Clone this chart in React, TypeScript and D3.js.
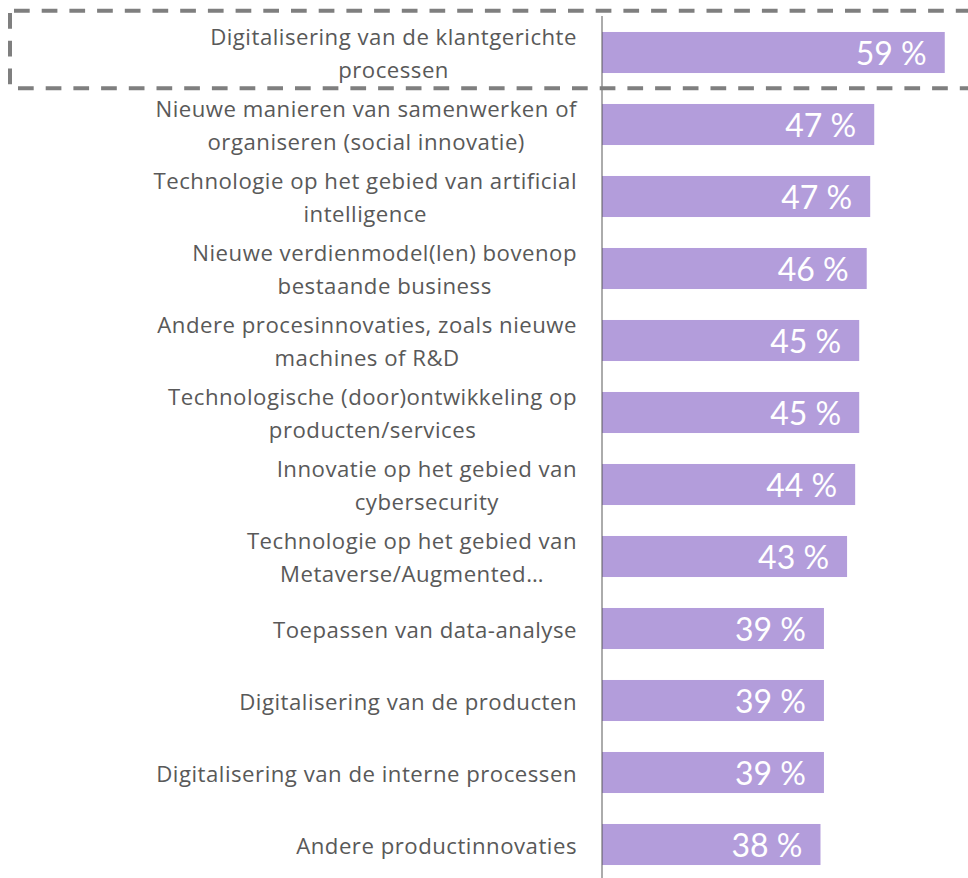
import React, { useEffect, useRef } from "react";
import * as d3 from "d3";

const categories: string[][] = [
  ["Digitalisering van de klantgerichte", "processen"],
  ["Nieuwe manieren van samenwerken of", "organiseren (social innovatie)"],
  ["Technologie op het gebied van artificial", "intelligence"],
  ["Nieuwe verdienmodel(len) bovenop", "bestaande business"],
  ["Andere procesinnovaties, zoals nieuwe", "machines of R&D"],
  ["Technologische (door)ontwikkeling op", "producten/services"],
  ["Innovatie op het gebied van", "cybersecurity"],
  ["Technologie op het gebied van", "Metaverse/Augmented…"],
  ["Toepassen van data-analyse"],
  ["Digitalisering van de producten"],
  ["Digitalisering van de interne processen"],
  ["Andere productinnovaties"],
];
// bar lengths
const values: number[] = [59.3, 47.1, 46.4, 45.8, 44.5, 44.5, 43.8, 42.4, 38.4, 38.4, 38.4, 37.8];
const valueLabels: string[] = ["59 %", "47 %", "47 %", "46 %", "45 %", "45 %", "44 %", "43 %", "39 %", "39 %", "39 %", "38 %"];

const W = 968;
const H = 878;
const LABEL_FONT = "'Open Sans', Lato, sans-serif";
const VALUE_FONT = "Lato, 'Open Sans', sans-serif";

export default function App() {
  const ref = useRef<SVGSVGElement | null>(null);
  useEffect(() => {
    const svg = d3.select(ref.current);
    svg.selectAll("*").remove();
    const axisX = 602;
    const x = d3.scaleLinear().domain([0, 100]).range([axisX, axisX + 578]);
    const y = d3
      .scaleBand<number>()
      .domain(d3.range(values.length))
      .range([16.5, 16.5 + 72 * values.length])
      .paddingInner(0.43)
      .paddingOuter(0.215);

    const g = svg.append("g");
    g.selectAll("rect.bar")
      .data(values)
      .join("rect")
      .attr("class", "bar")
      .attr("x", axisX)
      .attr("y", (_, i) => y(i)!)
      .attr("width", (d) => x(d) - axisX)
      .attr("height", y.bandwidth())
      .attr("fill", "#b39ddb");

    g.selectAll("text.val")
      .data(values)
      .join("text")
      .attr("class", "val")
      .attr("x", (d) => x(d) - 18)
      .attr("y", (_, i) => y(i)! + y.bandwidth() / 2 + 12)
      .attr("text-anchor", "end")
      .attr("fill", "#ffffff")
      .style("font-family", VALUE_FONT)
      .style("font-size", "32px")
      .text((_, i) => valueLabels[i]);

    const labelRight = 577;
    categories.forEach((lines, i) => {
      const c = y(i)! + y.bandwidth() / 2;
      const grp = g.append("g");
      const texts = lines.map((ln, j) => {
        const base = lines.length === 1 ? c + 9 : j === 0 ? c - 7.5 : c + 25;
        return grp
          .append("text")
          .attr("y", base)
          .attr("fill", "#595959")
          .attr("text-anchor", "middle")
          .style("font-family", LABEL_FONT)
          .style("font-size", "22.2px")
          .style("letter-spacing", "0.5px")
          .style("font-variant-ligatures", "none")
          .text(ln);
      });
      const maxW = d3.max(texts, (t) => (t.node() as SVGTextElement).getComputedTextLength()) || 0;
      texts.forEach((t) => t.attr("x", labelRight - maxW / 2));
    });

    g.append("line")
      .attr("x1", axisX)
      .attr("x2", axisX)
      .attr("y1", 16)
      .attr("y2", H)
      .attr("stroke", "#595959")
      .attr("stroke-width", 1);

    g.append("rect")
      .attr("x", 10)
      .attr("y", 10.7)
      .attr("width", 1000)
      .attr("height", 77.5)
      .attr("fill", "none")
      .attr("stroke", "#7f7f7f")
      .attr("stroke-width", 4)
      .attr("stroke-dasharray", "15.7,12")
      .attr("stroke-dashoffset", -4);
  }, []);
  return (
    <svg
      ref={ref}
      width={W}
      height={H}
      style={{ position: "absolute", left: 0, top: 0, background: "#fff" }}
    />
  );
}
